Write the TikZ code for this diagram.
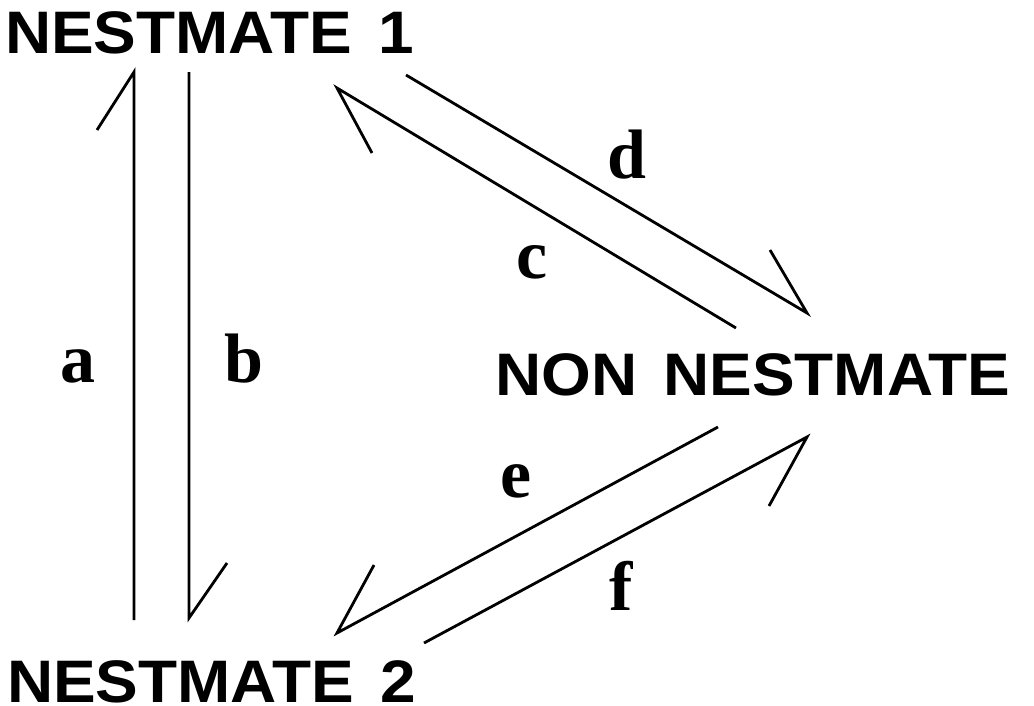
\documentclass[tikz,border=0pt]{standalone}
\usepackage{fontspec}
\setmainfont{Liberation Serif}
\newfontfamily\hel{Liberation Sans}
\begin{document}
\begin{tikzpicture}[x=1pt,y=-1pt,
  title/.style={inner sep=0pt,anchor=base west,font=\hel\bfseries\fontsize{60}{60}\selectfont},
  lbl/.style={inner sep=0pt,anchor=base,font=\bfseries\fontsize{70}{70}\selectfont},
  arr/.style={line width=2.8pt,line join=miter,miter limit=20}]
\useasboundingbox (0,0) rectangle (1034,705);
\node[title] (n1) at (5,53) {\scalebox{1.065}[1]{NESTMATE\ \hspace{8pt}1}};
\node[title] (n2) at (7,702) {\scalebox{1.065}[1]{NESTMATE\ \hspace{8pt}2}};
\node[title] (nn) at (495,395) {\scalebox{1.065}[1]{NON\ \hspace{8pt}NESTMATE}};
\node[lbl] (la) at (78,382) {a};
\node[lbl] (lb) at (244,382) {b};
\node[lbl] (lc) at (532,278) {c};
\node[lbl] (ld) at (627,178) {d};
\node[lbl] (le) at (516,497) {e};
\node[lbl] (lf) at (621,610) {f};
\coordinate (a1) at (134,620); \coordinate (a2) at (134,72); \coordinate (a3) at (97,130);
\coordinate (b1) at (189,72); \coordinate (b2) at (189,618); \coordinate (b3) at (227,563);
\coordinate (c1) at (736,328); \coordinate (c2) at (337,88); \coordinate (c3) at (372,153);
\coordinate (d1) at (406,75); \coordinate (d2) at (807,313); \coordinate (d3) at (770,250);
\coordinate (e1) at (718,427); \coordinate (e2) at (337,633); \coordinate (e3) at (374,565);
\coordinate (f1) at (424,643); \coordinate (f2) at (807,437); \coordinate (f3) at (769,506);
\draw[arr] (a1) -- (a2) -- (a3);
\draw[arr] (b1) -- (b2) -- (b3);
\draw[arr] (c1) -- (c2) -- (c3);
\draw[arr] (d1) -- (d2) -- (d3);
\draw[arr] (e1) -- (e2) -- (e3);
\draw[arr] (f1) -- (f2) -- (f3);
\end{tikzpicture}
\end{document}
